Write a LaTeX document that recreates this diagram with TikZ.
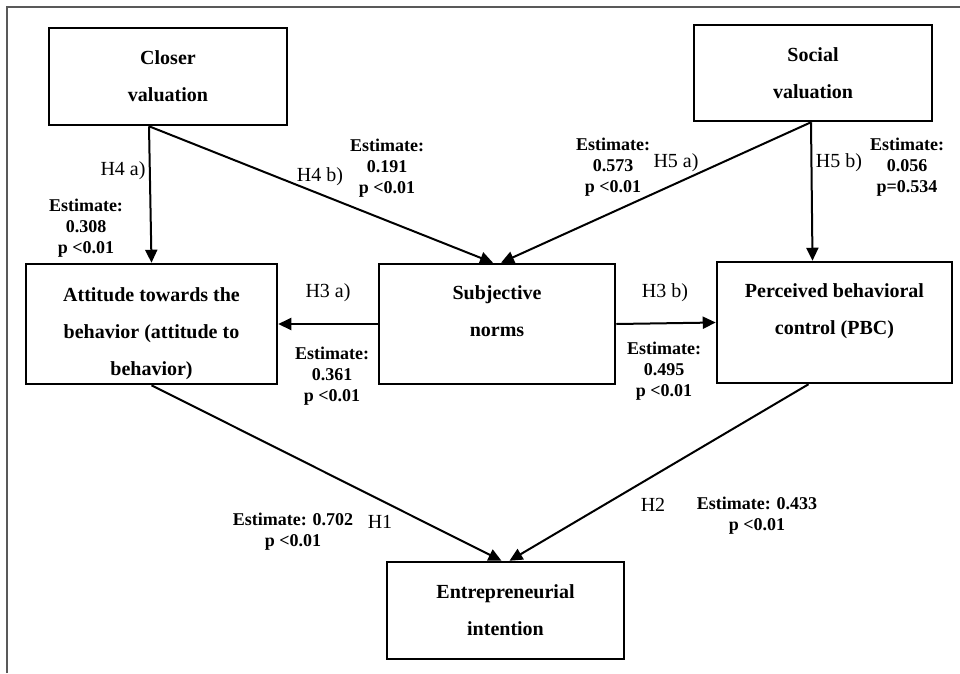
\documentclass[tikz,border=0pt]{standalone}
\usepackage{fontspec}
\setmainfont{Liberation Serif}
\usetikzlibrary{arrows.meta}

\begin{document}
\begin{tikzpicture}[x=1pt,y=-1pt,
  box/.style={rectangle,draw,line width=2.5pt,align=center,font=\fontsize{20}{37}\selectfont\bfseries},
  hyp/.style={font=\fontsize{20}{24}\selectfont},
  est/.style={align=center,font=\fontsize{18}{21}\selectfont\bfseries},
  >={Triangle[length=13pt,width=12pt]}]

\useasboundingbox (0,0) rectangle (960,673);
\draw[line width=1.5pt,black!65] (7,673) -- (7,7) -- (960,7);

\node[box,minimum width=238pt,minimum height=97pt] at (168,76.5) (cv) {Closer\\valuation};
\node[box,minimum width=238pt,minimum height=96pt] at (813,73) (sv) {Social\\valuation};
\node[box,minimum width=251pt,minimum height=120pt,text height=108pt] at (151.5,324) (att) {Attitude towards the\\behavior (attitude to\\behavior)};
\node[box,minimum width=236pt,minimum height=120pt,text depth=26pt] at (497,324) (sn) {Subjective\\norms};
\node[box,minimum width=235pt,minimum height=121pt,text depth=26pt] at (834.5,322.5) (pbc) {Perceived behavioral\\control (PBC)};
\node[box,minimum width=237pt,minimum height=97pt] at (505.5,610.5) (ei) {Entrepreneurial\\intention};

\path[->,draw,line width=2pt] ([xshift=-19pt]cv.south) to (att.north);
\path[->,draw,line width=2pt] ([xshift=-19pt]cv.south) to ([xshift=-4pt]sn.north);
\path[->,draw,line width=2pt] ([xshift=-2pt]sv.south) to ([xshift=4pt]sn.north);
\path[->,draw,line width=2pt] ([xshift=-2pt]sv.south) to ([xshift=-22pt]pbc.north);
\path[->,draw,line width=2pt] (sn.west) to (att.east);
\path[->,draw,line width=2pt] (sn.east) to (pbc.west);
\path[->,draw,line width=2pt] (att.south) to ([xshift=-4pt]ei.north);
\path[->,draw,line width=2pt] ([xshift=-26pt]pbc.south) to ([xshift=4pt]ei.north);

\node[hyp] at (123,171) (h4a) {H4 a)};
\node[hyp] at (320,177) (h4b) {H4 b)};
\node[hyp] at (676,163) (h5a) {H5 a)};
\node[hyp] at (839,163) (h5b) {H5 b)};
\node[hyp] at (328,293) (h3a) {H3 a)};
\node[hyp] at (665,293) (h3b) {H3 b)};
\node[hyp] at (380,522) (h1) {H1};
\node[hyp] at (653,505) (h2) {H2};

\node[est] at (86,228) (e4a) {Estimate:\\0.308\\p <0.01};
\node[est] at (387,168) (e4b) {Estimate:\\0.191\\p <0.01};
\node[est] at (613,167) (e5a) {Estimate:\\0.573\\p <0.01};
\node[est] at (907,167) (e5b) {Estimate:\\0.056\\p=0.534};
\node[est] at (332,376) (e3a) {Estimate:\\0.361\\p <0.01};
\node[est] at (664,371) (e3b) {Estimate:\\0.495\\p <0.01};
\node[est] at (293,532) (e1) {Estimate: 0.702\\p <0.01};
\node[est] at (757,516) (e2) {Estimate: 0.433\\p <0.01};

\end{tikzpicture}
\end{document}
